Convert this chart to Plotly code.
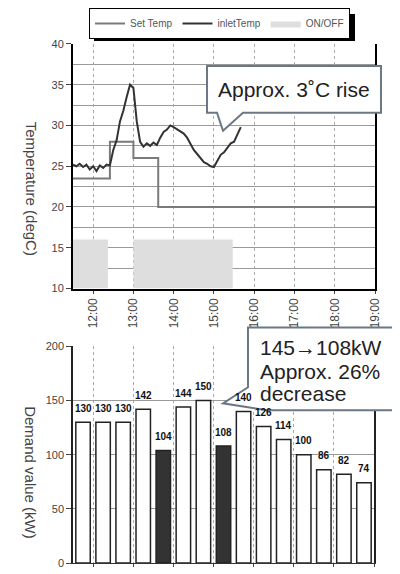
"""
Inlet temperature vs. demand value - before/after comparison
Two stacked panels: temperature trace on top, 30-min demand bars below
"""

import plotly.graph_objects as go

# The page body adds an 8px margin, so the figure is drawn 8px smaller
# and every layout position below is given in page pixels then shifted.
PAGE_OFFSET = 8
FW, FH = 392, 566
DAY = '2000-01-01 '

# Inlet temperature (degC)
INLET_TIMES = ['11:30', '11:35', '11:40', '11:45', '11:50', '11:55', '12:00', '12:05',
               '12:10', '12:15', '12:20', '12:25', '12:30', '12:35', '12:40', '12:45',
               '12:50', '12:55', '13:00', '13:05', '13:10', '13:15', '13:20', '13:25',
               '13:30', '13:35', '13:40', '13:45', '13:50', '13:55', '14:00', '14:05',
               '14:10', '14:15', '14:20', '14:25', '14:30', '14:35', '14:40', '14:45',
               '14:50', '14:55', '15:00', '15:05', '15:10', '15:15', '15:20', '15:25',
               '15:30', '15:35', '15:40']
INLET_TEMP = [25.2, 25.0, 25.3, 24.9, 25.2, 24.6, 25.0, 24.4,
              25.1, 24.8, 25.2, 25.1, 27.0, 28.2, 30.5, 31.8,
              33.5, 35.0, 34.6, 30.5, 28.0, 27.4, 27.8, 27.5,
              27.9, 27.6, 28.5, 29.2, 29.5, 30.0, 29.8, 29.5,
              29.3, 29.0, 28.5, 27.8, 27.0, 26.5, 26.0, 25.5,
              25.3, 25.0, 24.9, 25.6, 26.4, 26.7, 27.2, 27.8,
              28.0, 28.9, 29.8]

# Set temperature (step)
SET_TIMES = ['11:30', '12:25', '13:00', '13:37', '19:00']
SET_TEMP = [23.5, 28.0, 26.0, 20.0, 20.0]

# Air conditioner ON/OFF state
ONOFF_TIMES = ['11:30', '12:22', '13:00', '15:28', '19:00']
ONOFF_STATE = [1, 0, 1, 0, 0]

# 30-minute demand values (kW), bar centres
BAR_TIMES = ['11:45', '12:15', '12:45', '13:15', '13:45', '14:15', '14:45', '15:15',
             '15:45', '16:15', '16:45', '17:15', '17:45', '18:15', '18:45']
DEMAND_KW = [130, 130, 130, 142, 104, 144, 150, 108, 140, 126, 114, 100, 86, 82, 74]
CONTROLLED = [False, False, False, False, True, False, False, True,
              False, False, False, False, False, False, False]

FONT = 'Liberation Sans, Arial, sans-serif'
GRID = '#9a9a9a'
BORDER = '#6b7884'


def fx(x):
    """page pixel x -> paper x"""
    return (x - PAGE_OFFSET) / FW


def fy(y):
    """page pixel y -> paper y"""
    return 1 - (y - PAGE_OFFSET) / FH


def poly_path(points):
    return 'M ' + ' L '.join(f'{fx(x):.4f},{fy(y):.4f}' for x, y in points) + ' Z'


fig = go.Figure()

fig.add_trace(go.Scatter(
    x=[DAY + t for t in SET_TIMES], y=SET_TEMP,
    xaxis='x', yaxis='y', name='Set Temp', legendrank=1,
    mode='lines', line=dict(shape='hv', width=2, color='#7a7a7a')
))

fig.add_trace(go.Scatter(
    x=[DAY + t for t in INLET_TIMES], y=INLET_TEMP,
    xaxis='x', yaxis='y', name='inletTemp', legendrank=2,
    mode='lines', line=dict(width=2, color='#333333')
))

# ON/OFF blocks on a hidden overlay axis (1 -> 16 degC on the main axis)
fig.add_trace(go.Scatter(
    x=[DAY + t for t in ONOFF_TIMES], y=ONOFF_STATE,
    xaxis='x', yaxis='y2', name='ON/OFF', legendrank=3,
    mode='lines', line=dict(shape='hv', width=0, color='#d9d9d9'),
    fill='tozeroy', fillcolor='#dedede'
))

# demand bars
fig.add_trace(go.Bar(
    x=[DAY + t for t in BAR_TIMES], y=DEMAND_KW,
    xaxis='x2', yaxis='y3', showlegend=False,
    width=0.72 * 30 * 60 * 1000,
    marker=dict(color=['#333333' if c else '#ffffff' for c in CONTROLLED],
                line=dict(color='#222222', width=1.5))
))

# value labels above the bars
for t, v in zip(BAR_TIMES, DEMAND_KW):
    fig.add_annotation(x=DAY + t, y=v, xref='x2', yref='y3', text=f'<b>{v}</b>',
                       showarrow=False, yshift=14,
                       font=dict(family=FONT, size=10, color='#111111'))

x_range = [DAY + '11:30', DAY + '19:00']

fig.update_layout(
    width=FW, height=FH,
    margin=dict(l=0, r=0, t=0, b=0),
    paper_bgcolor='white', plot_bgcolor='white',
    font=dict(family=FONT, size=11, color='#444444'),
    showlegend=True,
    legend=dict(orientation='h', x=fx(89), y=fy(7), xanchor='left', yanchor='top',
                bgcolor='white', bordercolor='#000000', borderwidth=1,
                font=dict(size=10, color='#555555'), traceorder='normal',
                itemwidth=30),
    xaxis=dict(type='date', domain=[fx(73), fx(375)], anchor='y', range=x_range,
               tick0=DAY + '12:00', dtick=3600000, tickformat='%H:%M', tickangle=-90,
               tickfont=dict(size=12), showgrid=True, gridcolor='#aaaaaa', griddash='dot',
               showline=True, linecolor='#000000', linewidth=2,
               ticks='outside', ticklen=3, tickcolor='#444444', automargin=False),
    yaxis=dict(domain=[fy(288), fy(43)], anchor='x', range=[10, 40], dtick=5,
               showgrid=True, gridcolor=GRID, gridwidth=1,
               minor=dict(dtick=2.5, showgrid=True, gridcolor=GRID, gridwidth=1),
               showline=True, linecolor='#000000', linewidth=2, mirror=True,
               ticks='outside', ticklen=5, tickcolor='#444444', automargin=False,
               zeroline=False),
    yaxis2=dict(overlaying='y', range=[0, 5], visible=False),
    xaxis2=dict(type='date', domain=[fx(73), fx(374)], anchor='y3', range=x_range,
                tick0=DAY + '12:00', dtick=3600000, showticklabels=False,
                showgrid=True, gridcolor='#aaaaaa', griddash='dot',
                showline=True, linecolor='#333333', linewidth=1,
                ticks='outside', ticklen=3, tickcolor='#444444', automargin=False),
    yaxis3=dict(domain=[fy(563), fy(346)], anchor='x2', range=[0, 200], dtick=50,
                showgrid=True, gridcolor=GRID, gridwidth=1,
                showline=True, linecolor='#222222', linewidth=1.5, mirror=True,
                ticks='outside', ticklen=5, tickcolor='#444444', automargin=False,
                zeroline=False),
)

# drop shadow behind the legend box
fig.add_shape(type='rect', x0=fx(94), x1=fx(355), y0=fy(13), y1=fy(40),
              xref='paper', yref='paper', fillcolor='#000000',
              line=dict(width=0), layer='above')

# axis titles read top-to-bottom in the original
for title, ypix in [('Temperature (degC)', 188), ('Demand value (kW)', 472)]:
    fig.add_annotation(x=fx(31), y=fy(ypix), xref='paper', yref='paper',
                       xanchor='center', yanchor='middle',
                       text=title, textangle=90, showarrow=False,
                       font=dict(size=15, color='#444444'))

# speech bubbles
bubble1 = [(207, 65), (381, 65), (381, 112), (243, 112), (223, 130), (217, 112), (207, 112)]
bubble2 = [(248, 327), (395, 327), (395, 410), (267, 410), (223, 403), (248, 387)]
for pts in (bubble1, bubble2):
    fig.add_shape(type='path', path=poly_path(pts), xref='paper', yref='paper',
                  fillcolor='white', line=dict(color=BORDER, width=2), layer='above')

fig.add_annotation(x=fx(294), y=fy(89), xref='paper', yref='paper',
                   xanchor='center', yanchor='middle', text='Approx. 3˚C rise',
                   showarrow=False, font=dict(size=21, color='#222222'))

for text, ypix in [('145→108kW', 347), ('Approx. 26%', 371), ('decrease', 393)]:
    fig.add_annotation(x=fx(258), y=fy(ypix), xref='paper', yref='paper', text=text,
                       xanchor='left', yanchor='middle', showarrow=False,
                       font=dict(size=21, color='#222222'))

fig.write_html('out.html')
